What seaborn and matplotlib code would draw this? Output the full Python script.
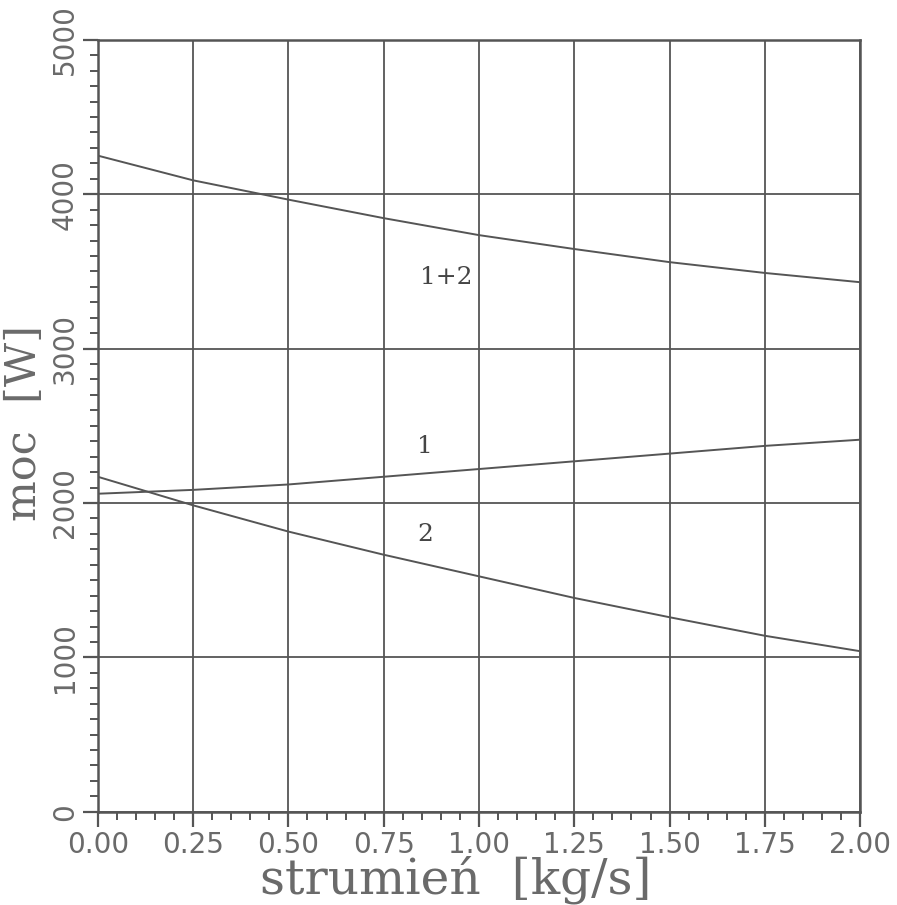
"""
moc vs strumien: curves 1, 2 and their sum 1+2.
"""

import matplotlib
matplotlib.use("Agg")
import matplotlib.pyplot as plt
import numpy as np
import pandas as pd
import seaborn as sns
from matplotlib.ticker import MultipleLocator

# values
strumien = [0.00, 0.25, 0.50, 0.75, 1.00, 1.25, 1.50, 1.75, 2.00]
moc_1 = [2060, 2085, 2120, 2170, 2220, 2270, 2320, 2370, 2410]
moc_2 = [2170, 1985, 1815, 1665, 1525, 1385, 1260, 1140, 1040]
moc_12 = [4250, 4090, 3965, 3845, 3735, 3645, 3560, 3490, 3430]

curve_names = ["1", "2", "1+2"]
label_pos = {"1+2": (0.913, 3460), "1": (0.858, 2368), "2": (0.858, 1795)}

x_ticks = [0.00, 0.25, 0.50, 0.75, 1.00, 1.25, 1.50, 1.75, 2.00]
y_ticks = [0, 1000, 2000, 3000, 4000, 5000]

INK = "#555555"
TXT = "#6a6a6a"

sns.set_style("white")
plt.rcParams["font.family"] = ["DejaVu Sans"]

df = pd.DataFrame({
    "strumien": strumien * 3,
    "moc": moc_1 + moc_2 + moc_12,
    "curve": sum([[n] * len(strumien) for n in curve_names], []),
})

fig = plt.figure(figsize=(8.97, 9.05), dpi=100)
ax = fig.add_axes([0.109, 0.103, 0.85, 0.853])

sns.lineplot(data=df, x="strumien", y="moc", hue="curve", palette=[INK] * 3,
             linewidth=1.4, legend=False, ax=ax)

for name, (lx, ly) in label_pos.items():
    ax.text(lx, ly, name, ha="center", va="center", fontsize=18,
            family="DejaVu Serif", color="#454545")

ax.set_xlim(0, 2)
ax.set_ylim(0, 5000)
ax.set_xticks(x_ticks)
ax.set_xticklabels([f"{v:.2f}" for v in x_ticks])
ax.set_yticks(y_ticks)
ax.set_yticklabels([str(v) for v in y_ticks], rotation=90, va="center")
ax.xaxis.set_minor_locator(MultipleLocator(0.05))
ax.yaxis.set_minor_locator(MultipleLocator(100))

ax.grid(True, which="major", color=INK, linewidth=1.3)
ax.tick_params(which="major", direction="out", length=10.5, width=1.6, color=INK,
               labelsize=20, labelcolor=TXT, pad=3, left=True, bottom=True)
ax.tick_params(which="minor", direction="out", length=6, width=1.4, color=INK,
               left=True, bottom=True)
for sp in ax.spines.values():
    sp.set_color(INK)
    sp.set_linewidth(1.8)

ax.set_xlabel("strumień  [kg/s]", family="DejaVu Serif", fontsize=35, color=TXT)
ax.set_ylabel("moc  [W]", family="DejaVu Serif", fontsize=31, color=TXT)
ax.xaxis.set_label_coords(0.47, -0.057)
ax.yaxis.set_label_coords(-0.069, 0.504)

fig.savefig("out.png", dpi=100)
plt.close(fig)
